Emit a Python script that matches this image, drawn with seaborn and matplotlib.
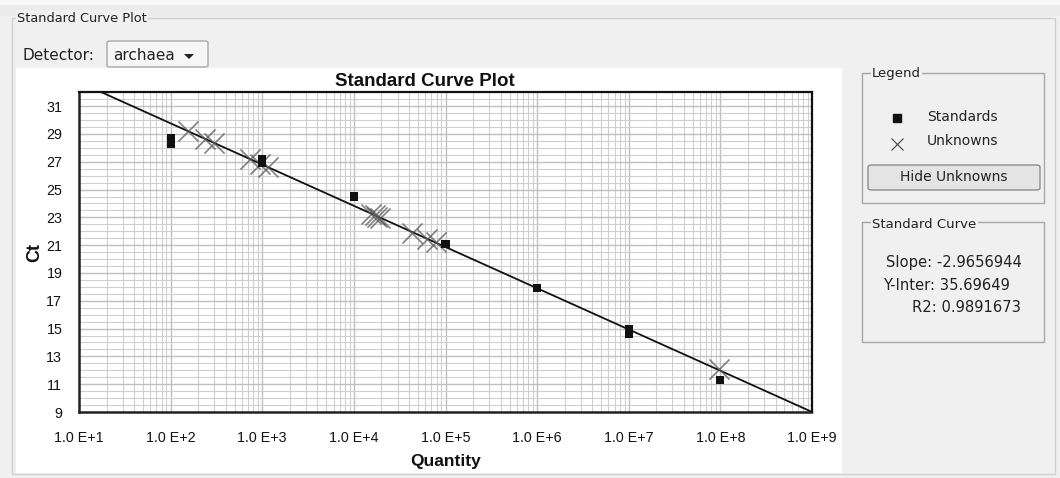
import matplotlib
matplotlib.use("Agg")
import matplotlib.pyplot as plt
import matplotlib.patches as mpatches
import matplotlib.ticker as mticker
import numpy as np
import pandas as pd
import seaborn as sns

# ---------------- data ----------------
std_quantity = [1e2, 1e2, 1e3, 1e3, 1e4, 1e5, 1e6, 1e7, 1e7, 1e8]
std_ct = [28.7, 28.25, 27.2, 26.9, 24.5, 21.1, 17.95, 15.0, 14.6, 11.3]

unk_quantity = [155, 237, 295, 740, 950, 1170, 1.55e4, 1.7e4, 1.8e4, 1.95e4,
                4.3e4, 6.3e4, 7.8e4, 9.6e7]
unk_ct = [29.2, 28.65, 28.37, 27.2, 26.86, 26.6, 23.25, 23.15, 23.05, 22.95,
          21.86, 21.45, 21.2, 12.07]

curve_slope = -2.9656944
curve_intercept = 35.69649
curve_r2 = 0.9891673
curve_quantity = [1e1, 1e9]

x_tick_values = [1e1, 1e2, 1e3, 1e4, 1e5, 1e6, 1e7, 1e8, 1e9]
x_tick_labels = ["1.0 E+1", "1.0 E+2", "1.0 E+3", "1.0 E+4", "1.0 E+5",
                 "1.0 E+6", "1.0 E+7", "1.0 E+8", "1.0 E+9"]
y_tick_values = [9, 11, 13, 15, 17, 19, 21, 23, 25, 27, 29, 31]

detector_name = "archaea"

std_df = pd.DataFrame({"Quantity": std_quantity, "Ct": std_ct})
unk_df = pd.DataFrame({"Quantity": unk_quantity, "Ct": unk_ct})
curve_df = pd.DataFrame({
    "Quantity": curve_quantity,
    "Ct": [curve_intercept + curve_slope * np.log10(q) for q in curve_quantity],
})

# ---------------- figure ----------------
sns.set_style("white")
plt.rcParams["font.family"] = ["DejaVu Sans"]
W, H = 1060, 478
fig = plt.figure(figsize=(W / 100, H / 100), dpi=100)
fig.patch.set_facecolor("#f0f0f0")

NARROW = ["Liberation Sans", "DejaVu Sans"]


def fx(x):
    return x / W


def fy(y):
    return 1 - y / H


def rect(x0, y0, x1, y1, **kw):
    kw.setdefault("zorder", 0)
    r = mpatches.Rectangle((fx(x0), fy(y1)), fx(x1) - fx(x0), fy(y0) - fy(y1),
                           transform=fig.transFigure, **kw)
    fig.add_artist(r)
    return r


def text(x, y, s, **kw):
    return fig.text(fx(x), fy(y), s, **kw)


# top strips
rect(0, 0, 1060, 5, facecolor="#f7f7f7", edgecolor="none")
rect(0, 5, 1060, 16, facecolor="#ebebeb", edgecolor="none")
# outer group border
rect(12, 18, 1055, 474, facecolor="none", edgecolor="#d0d0d0", linewidth=1)
text(17, 18, "Standard Curve Plot", fontsize=9.3, va="center", ha="left",
     color="#222222", bbox=dict(facecolor="#f0f0f0", edgecolor="none", pad=1))

# detector dropdown
text(22, 55, "Detector:", fontsize=11, va="center", ha="left", color="#222222")
dd = mpatches.FancyBboxPatch((fx(107), fy(67)), fx(208) - fx(107), fy(41) - fy(67),
                             boxstyle="round,pad=0,rounding_size=0.003",
                             transform=fig.transFigure, facecolor="#f6f6f6",
                             edgecolor="#a8a8a8", linewidth=1, zorder=0)
fig.add_artist(dd)
text(113, 55, detector_name, fontsize=11, va="center", ha="left", color="#222222")
tri = mpatches.Polygon([(fx(184), fy(54)), (fx(194), fy(54)), (fx(189), fy(59))],
                       closed=True, transform=fig.transFigure,
                       facecolor="#222222", edgecolor="none", zorder=1)
fig.add_artist(tri)

# white chart panel
rect(16, 68, 842, 473, facecolor="white", edgecolor="none")

# ---------------- axes ----------------
ax_l, ax_r, ax_t, ax_b = 79, 812, 92, 412
ax = fig.add_axes([fx(ax_l), fy(ax_b), fx(ax_r) - fx(ax_l), fy(ax_t) - fy(ax_b)])
ax.set_zorder(5)
ax.set_facecolor("white")
ax.set_xscale("log")
ax.set_xlim(1e1, 1e9)
ax.set_ylim(9, 32.02)

# grid
ax.xaxis.set_major_locator(mticker.FixedLocator(x_tick_values))
ax.xaxis.set_minor_locator(mticker.LogLocator(base=10, subs=np.arange(2, 10)))
ax.xaxis.set_minor_formatter(mticker.NullFormatter())
ax.set_xticklabels(x_tick_labels)
ax.yaxis.set_major_locator(mticker.FixedLocator(y_tick_values))
ax.yaxis.set_minor_locator(mticker.MultipleLocator(0.5))
ax.grid(True, which="major", axis="both", color="#c0c0c0", linewidth=1.0)
ax.grid(True, which="minor", axis="both", color="#cfcfcf", linewidth=0.8)
ax.set_axisbelow(True)

sns.lineplot(data=curve_df, x="Quantity", y="Ct", ax=ax, color="#111111",
             linewidth=1.3, zorder=3)
sns.scatterplot(data=unk_df, x="Quantity", y="Ct", ax=ax, marker="x",
                s=210, color="#5a5a5a", alpha=0.75, linewidth=1.2, zorder=4)
sns.scatterplot(data=std_df, x="Quantity", y="Ct", ax=ax, marker="s",
                s=34, color="#111111", edgecolor="none", linewidth=0, zorder=5)

for side in ["top", "right"]:
    ax.spines[side].set_color("#111111")
    ax.spines[side].set_linewidth(1.6)
for side in ["left", "bottom"]:
    ax.spines[side].set_color("#222222")
    ax.spines[side].set_linewidth(1.8)
    ax.spines[side].set_linestyle((0, (2.5, 1)))

ax.tick_params(axis="x", which="major", length=5, width=0.8, color="#9a9a9a",
               direction="out", labelsize=10.3, labelcolor="#111111", pad=9)
ax.tick_params(axis="y", which="major", length=5, width=0.8, color="#9a9a9a",
               direction="out", labelsize=10.3, labelcolor="#111111", pad=7)
ax.tick_params(axis="both", which="minor", length=3, width=0.6, color="#bdbdbd",
               direction="out")
for lab in ax.get_xticklabels() + ax.get_yticklabels():
    lab.set_family(NARROW)
ax.set_xlabel("Quantity", fontsize=12.5, fontweight="bold", family=NARROW,
              labelpad=6, color="#111111")
ax.set_ylabel("Ct", fontsize=13, fontweight="bold", family=NARROW,
              labelpad=2, color="#111111")
text(425, 82, "Standard Curve Plot", fontsize=13.5, fontweight="bold",
     family=NARROW, ha="center", va="center", color="#111111", zorder=6)

# ---------------- legend panel ----------------
rect(862, 73, 1044, 203, facecolor="none", edgecolor="#a8a8a8", linewidth=1)
text(872, 74, "Legend", fontsize=9.5, va="center", ha="left", color="#222222",
     bbox=dict(facecolor="#f0f0f0", edgecolor="none", pad=1))
fig.add_artist(plt.Line2D([fx(897)], [fy(118)], marker="s", markersize=5.5,
                          color="#111111", linestyle="none",
                          transform=fig.transFigure))
text(927, 117, "Standards", fontsize=10, va="center", ha="left", color="#222222")
fig.add_artist(plt.Line2D([fx(897)], [fy(144)], marker="x", markersize=8,
                          markeredgewidth=0.9, color="#555555", linestyle="none",
                          transform=fig.transFigure))
text(927, 141, "Unknowns", fontsize=10, va="center", ha="left", color="#222222")
btn = mpatches.FancyBboxPatch((fx(868), fy(190)), fx(1040) - fx(868), fy(165) - fy(190),
                              boxstyle="round,pad=0,rounding_size=0.004",
                              transform=fig.transFigure, facecolor="#e4e4e4",
                              edgecolor="#8c8c8c", linewidth=1, zorder=0)
fig.add_artist(btn)
text(954, 177, "Hide Unknowns", fontsize=10, va="center", ha="center",
     color="#222222")

# ---------------- standard curve panel ----------------
rect(862, 222, 1044, 342, facecolor="none", edgecolor="#a8a8a8", linewidth=1)
text(872, 224, "Standard Curve", fontsize=9.5, va="center", ha="left",
     color="#222222", bbox=dict(facecolor="#f0f0f0", edgecolor="none", pad=1))
text(886, 263, f"Slope: {curve_slope:.7f}", fontsize=10.6, va="center",
     ha="left", color="#222222")
text(883, 286, f"Y-Inter: {curve_intercept:.5f}", fontsize=10.6, va="center",
     ha="left", color="#222222")
text(912, 308, f"R2: {curve_r2:.7f}", fontsize=10.6, va="center", ha="left",
     color="#222222")

fig.savefig("out.png", dpi=100, facecolor=fig.get_facecolor())
